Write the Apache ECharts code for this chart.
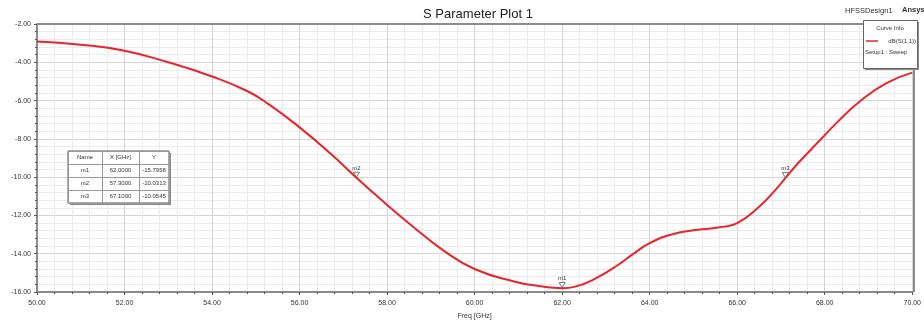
<!DOCTYPE html>
<html>
<head>
<meta charset="utf-8">
<script src="https://cdn.jsdelivr.net/npm/echarts@6/dist/echarts.min.js"></script>
<style>
  html, body { margin: 0; padding: 0; background: #fff; }
  #chart { width: 924px; height: 326px; }
</style>
</head>
<body>
<div id="chart"></div>
<script>
// dB(S(1,1)) curve
const freq = [50, 51, 52, 53, 54, 54.8, 55.3, 56, 56.7, 57.3, 57.8, 58.6, 59.3, 60, 60.9, 61.5, 62, 62.3, 62.8, 63.3, 63.6, 64, 64.5, 65, 65.6, 66, 66.5, 66.9, 67.1, 67.4, 67.9, 68.3, 68.8, 69.4, 70];
const dbS11 = [-2.91, -3.08, -3.4, -4.0, -4.74, -5.5, -6.2, -7.4, -8.75, -10.03, -11.05, -12.6, -13.85, -14.8, -15.45, -15.7, -15.8, -15.72, -15.25, -14.55, -14.05, -13.45, -13.0, -12.78, -12.62, -12.4, -11.55, -10.6, -10.05, -9.25, -8.05, -7.1, -6.05, -5.1, -4.54];

// markers
const markerNames = ['m1', 'm2', 'm3'];
const markerX = [62.0, 57.3, 67.1];
const markerY = [-15.7958, -10.0313, -10.0545];

const chart = echarts.init(document.getElementById('chart'));
const FONT = 'Liberation Sans, Arial, sans-serif';

// marker table
const tbl = { x: 68, y: 151, colW: [34, 37, 30], rowH: 13 };
const tableEls = [];
const tblW = tbl.colW.reduce((a, b) => a + b, 0);
const tblH = tbl.rowH * 4;
tableEls.push({ type: 'rect', z: 100, shape: { x: tbl.x + 2, y: tbl.y + 2, width: tblW, height: tblH }, style: { fill: '#8a8a8a' } });
tableEls.push({ type: 'rect', z: 101, shape: { x: tbl.x, y: tbl.y, width: tblW, height: tblH }, style: { fill: '#fff', stroke: '#555', lineWidth: 1 } });
const rows = [['Name', 'X [GHz]', 'Y']].concat(markerNames.map((n, i) => [n, markerX[i].toFixed(4), markerY[i].toFixed(4)]));
rows.forEach((r, ri) => {
  let cx = tbl.x;
  r.forEach((t, ci) => {
    tableEls.push({ type: 'rect', z: 102, shape: { x: cx + 0.5, y: tbl.y + ri * tbl.rowH + 0.5, width: tbl.colW[ci], height: tbl.rowH }, style: { fill: 'none', stroke: '#999', lineWidth: 1 } });
    tableEls.push({ type: 'text', z: 103, x: cx + tbl.colW[ci] / 2, y: tbl.y + ri * tbl.rowH + tbl.rowH / 2,
      style: { text: t, fill: '#333', font: '6px ' + FONT, align: 'center', verticalAlign: 'middle' } });
    cx += tbl.colW[ci];
  });
});

const option = {
  backgroundColor: '#fff',
  animation: false,
  title: {
    text: 'S Parameter Plot 1',
    left: 473, top: 3, textAlign: 'center',
    textStyle: { fontFamily: FONT, fontSize: 13, fontWeight: 'normal', color: '#222' }
  },
  grid: { left: 37, right: 10, top: 24, bottom: 34 },
  xAxis: {
    type: 'value', min: 50, max: 70, interval: 2,
    name: 'Freq [GHz]', nameLocation: 'middle', nameGap: 21,
    nameTextStyle: { fontFamily: FONT, fontSize: 7, color: '#333' },
    axisLine: { onZero: false, lineStyle: { color: '#8c8c8c', width: 2 } },
    axisTick: { length: 3, lineStyle: { color: '#555' } },
    minorTick: { show: true, splitNumber: 5, length: 2, lineStyle: { color: '#555' } },
    axisLabel: { fontFamily: FONT, fontSize: 7, color: '#333', margin: 8, formatter: v => v.toFixed(2) },
    splitLine: { show: true, lineStyle: { color: '#d4d4d4', width: 1, type: 'solid' } },
    minorSplitLine: { show: true, lineStyle: { color: '#ebebeb', width: 1, type: 'solid' } }
  },
  yAxis: {
    type: 'value', min: -16, max: -2, interval: 2,
    axisLine: { show: true, onZero: false, lineStyle: { color: '#8c8c8c', width: 2 } },
    axisTick: { show: true, length: 3, lineStyle: { color: '#555' } },
    minorTick: { show: true, splitNumber: 5, length: 2, lineStyle: { color: '#555' } },
    axisLabel: { fontFamily: FONT, fontSize: 7, color: '#333', margin: 6, formatter: v => v.toFixed(2) },
    splitLine: { show: true, lineStyle: { color: '#d4d4d4', width: 1, type: 'solid' } },
    minorSplitLine: { show: true, lineStyle: { color: '#ebebeb', width: 1, type: 'solid' } }
  },
  graphic: [
    // plot frame top/right
    { type: 'line', z: 50, shape: { x1: 37, y1: 24, x2: 914, y2: 24 }, style: { stroke: '#8c8c8c', lineWidth: 2 } },
    { type: 'line', z: 50, shape: { x1: 914, y1: 24, x2: 914, y2: 292 }, style: { stroke: '#8c8c8c', lineWidth: 2 } },
    { type: 'text', x: 845, y: 7, style: { text: 'HFSSDesign1', fill: '#333', font: '7.5px ' + FONT } },
    { type: 'text', x: 902, y: 6, style: { text: 'Ansys', fill: '#333', font: 'bold 7.5px ' + FONT } },
    // curve info box
    { type: 'rect', z: 100, shape: { x: 865, y: 22, width: 54, height: 48 }, style: { fill: '#8a8a8a' } },
    { type: 'rect', z: 101, shape: { x: 863.5, y: 20.5, width: 54, height: 48 }, style: { fill: '#fff', stroke: '#666', lineWidth: 1 } },
    { type: 'text', z: 102, x: 890, y: 28, style: { text: 'Curve Info', fill: '#333', font: '6px ' + FONT, align: 'center', verticalAlign: 'middle' } },
    { type: 'line', z: 102, shape: { x1: 866, y1: 41, x2: 878, y2: 41 }, style: { stroke: '#e8242c', lineWidth: 1.5 } },
    { type: 'text', z: 102, x: 916, y: 41, style: { text: 'dB(S(1,1))', fill: '#333', font: '6px ' + FONT, align: 'right', verticalAlign: 'middle' } },
    { type: 'text', z: 102, x: 865, y: 52, style: { text: 'Setup1 : Sweep', fill: '#333', font: '6px ' + FONT, verticalAlign: 'middle' } }
  ].concat(tableEls),
  series: [{
    name: 'dB(S(1,1))',
    type: 'line',
    smooth: 0.5,
    showSymbol: false,
    lineStyle: { color: '#e8242c', width: 2 },
    data: freq.map((f, i) => [f, dbS11[i]]),
    markPoint: {
      symbol: 'triangle',
      symbolSize: [6, 5],
      symbolRotate: 180,
      symbolOffset: [0, -3],
      itemStyle: { color: '#fff', borderColor: '#555', borderWidth: 0.8 },
      label: { show: true, position: 'top', distance: 1, fontFamily: FONT, fontSize: 6, color: '#333', formatter: p => p.name },
      data: markerNames.map((n, i) => ({ name: n, coord: [markerX[i], markerY[i]] }))
    }
  }]
};

chart.setOption(option);
</script>
</body>
</html>
